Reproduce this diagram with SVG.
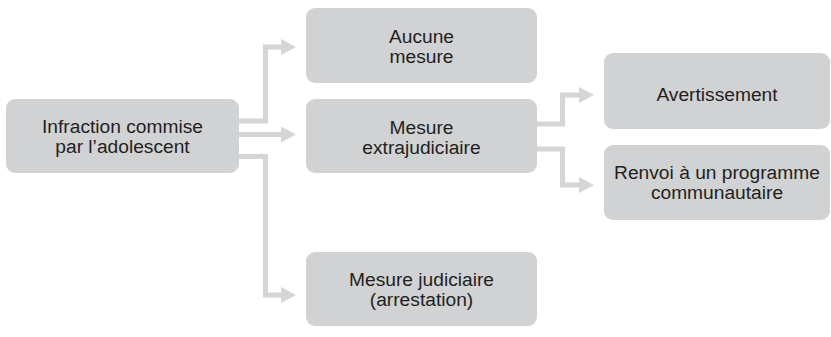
<svg xmlns="http://www.w3.org/2000/svg" width="831" height="337" viewBox="0 0 831 337">
<style>
.box{fill:#d1d2d4}
.lbl{font-family:"Liberation Sans",Arial,sans-serif;font-size:19.2px;fill:#231f20;text-anchor:middle}
.conn{fill:none;stroke:#d4d5d7;stroke-width:5}
</style>
<defs>
<marker id="ah" markerUnits="userSpaceOnUse" markerWidth="15" markerHeight="16" viewBox="0 0 15 16" refX="0" refY="8" orient="auto">
<path d="M0,0 L15,8 L0,16 Z" fill="#d4d5d7"/>
</marker>
</defs>
<g id="connectors">
<path class="conn" d="M239,121 H265.5 V47 H281" marker-end="url(#ah)"/>
<path class="conn" d="M239,134.5 H281" marker-end="url(#ah)"/>
<path class="conn" d="M239,156.5 H265.5 V295 H281" marker-end="url(#ah)"/>
<path class="conn" d="M537,124 H562.5 V95 H579" marker-end="url(#ah)"/>
<path class="conn" d="M537,149 H562.5 V185 H579" marker-end="url(#ah)"/>
</g>
<g id="n-infraction">
<rect class="box" x="6" y="99" width="233" height="74" rx="9"/>
<text class="lbl" x="122.5" y="133">Infraction commise</text>
<text class="lbl" x="122.5" y="153">par l’adolescent</text>
</g>
<g id="n-aucune">
<rect class="box" x="306" y="8" width="231" height="75" rx="9"/>
<text class="lbl" x="421.5" y="43">Aucune</text>
<text class="lbl" x="421.5" y="63">mesure</text>
</g>
<g id="n-extrajudiciaire">
<rect class="box" x="306" y="99" width="231" height="74" rx="9"/>
<text class="lbl" x="421.5" y="134">Mesure</text>
<text class="lbl" x="421.5" y="154">extrajudiciaire</text>
</g>
<g id="n-judiciaire">
<rect class="box" x="306" y="252" width="231" height="74" rx="9"/>
<text class="lbl" x="421.5" y="286">Mesure judiciaire</text>
<text class="lbl" x="421.5" y="306">(arrestation)</text>
</g>
<g id="n-avertissement">
<rect class="box" x="604" y="53" width="226" height="76" rx="9"/>
<text class="lbl" x="717" y="101">Avertissement</text>
</g>
<g id="n-renvoi">
<rect class="box" x="604" y="145" width="226" height="75" rx="9"/>
<text class="lbl" x="717" y="179">Renvoi à un programme</text>
<text class="lbl" x="717" y="199">communautaire</text>
</g>
</svg>
